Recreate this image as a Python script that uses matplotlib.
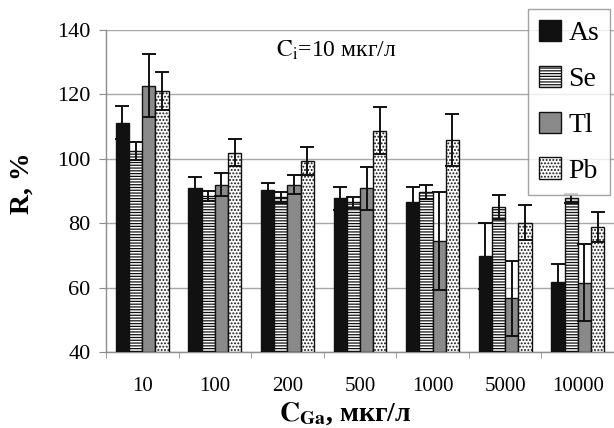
import numpy as np
import matplotlib
matplotlib.use('Agg')
from matplotlib import pyplot as plt
from matplotlib.patches import Patch

# data
concentrations = ['10', '100', '200', '500', '1000', '5000', '10000']
elements = ['As', 'Se', 'Tl', 'Pb']
r_as = [111.2, 90.8, 90.2, 87.7, 86.5, 69.8, 61.7]
r_se = [102.5, 88.5, 88.0, 86.5, 89.8, 85.1, 87.7]
r_tl = [122.7, 92.0, 92.0, 90.8, 74.6, 56.7, 61.5]
r_pb = [121.0, 101.9, 99.3, 108.7, 105.9, 80.2, 78.8]
err_as = [5.2, 3.6, 2.3, 3.6, 4.8, 10.2, 5.6]
err_se = [2.8, 1.5, 1.8, 1.7, 2.2, 3.7, 1.5]
err_tl = [9.8, 3.5, 3.0, 6.6, 15.2, 11.6, 12.0]
err_pb = [5.9, 4.1, 4.3, 7.3, 8.1, 5.3, 4.7]

plt.rcParams['font.family'] = ['Liberation Serif', 'DejaVu Serif']
plt.rcParams['mathtext.fontset'] = 'stix'
plt.rcParams['hatch.linewidth'] = 0.9

values = [r_as, r_se, r_tl, r_pb]
errors = [err_as, err_se, err_tl, err_pb]
styles = [dict(color='#111111', hatch=None),
          dict(color='white', hatch='------'),
          dict(color='#8a8a8a', hatch=None),
          dict(color='white', hatch='.....')]

fig = plt.figure(figsize=(6.14, 4.28), dpi=100)
ax = fig.add_axes([106 / 614, 1 - 352 / 428, 1 - 106 / 614, (352 - 30) / 428])

x = np.arange(len(concentrations))
width = 0.182
grey = '#8c8c8c'

handles = []
for i, (name, vals, errs, st) in enumerate(zip(elements, values, errors, styles)):
    pos = x + (i - 1.5) * width
    ax.bar(pos, np.array(vals) - 40, width, bottom=40, color=st['color'],
           hatch=st['hatch'], edgecolor='#111111', linewidth=1.0, zorder=3)
    ax.errorbar(pos, vals, yerr=errs, fmt='none', ecolor='#111111',
                elinewidth=1.4, capsize=4.8, capthick=1.4, zorder=4)
    handles.append(Patch(facecolor=st['color'], hatch=st['hatch'],
                         edgecolor='#111111', linewidth=1.0, label=name))

ax.set_ylim(40, 140)
ax.set_yticks(np.arange(40, 141, 20))
ax.set_xlim(-0.5, 6.5 - 5 / 73.3)
ax.set_xticks(x)
ax.set_xticklabels(concentrations)
ax.set_xticks(np.arange(-0.5, 7, 1), minor=True)
ax.tick_params(axis='x', which='major', length=0, pad=18, labelsize=15)
ax.tick_params(axis='x', which='minor', length=4, color=grey, direction='out')
ax.tick_params(axis='y', length=5, color=grey, labelsize=16, pad=6)

ax.grid(axis='y', color='#a8a8a8', linewidth=1.0, zorder=0)
ax.set_axisbelow(True)
for side in ['top', 'right']:
    ax.spines[side].set_visible(False)
for side in ['left', 'bottom']:
    ax.spines[side].set_color(grey)
    ax.spines[side].set_linewidth(1.0)

ax.text(0.335, 0.938, r'$\mathrm{C_i}$=10 мкг/л', transform=ax.transAxes,
        fontsize=17, va='center', ha='left')

fig.text(22 / 614, 1 - 183 / 428, 'R, %', rotation=90, fontsize=20,
         fontweight='bold', ha='center', va='center')
fig.text(345 / 614, 1 - 414 / 428, r'$\mathbf{C_{Ga}}$, мкг/л', fontsize=20,
         fontweight='bold', ha='center', va='center')

leg = fig.legend(handles=handles, loc='upper left',
                 bbox_to_anchor=(528 / 614, 1 - 9 / 428), fontsize=20,
                 frameon=True, fancybox=False, handlelength=0.8,
                 handleheight=0.8, handletextpad=0.25, labelspacing=0.7,
                 borderpad=0.4, borderaxespad=0)
leg.get_frame().set_edgecolor(grey)
leg.get_frame().set_linewidth(1.0)

fig.savefig('out.png', dpi=100)
